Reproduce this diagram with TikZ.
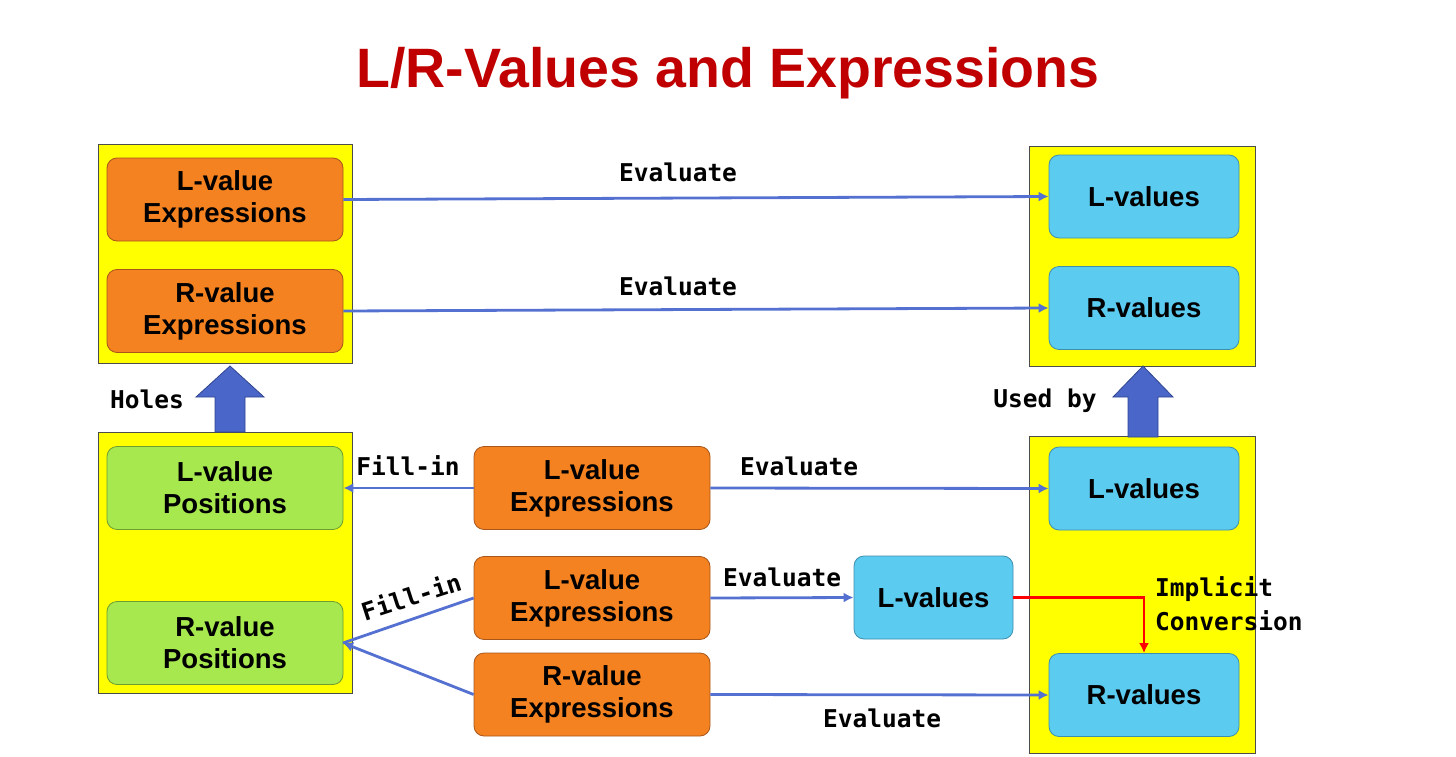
\documentclass[tikz,border=0pt]{standalone}
\usepackage{fontspec}
\setmainfont{Liberation Sans}
\newfontfamily\monof{DejaVu Sans Mono}
\usetikzlibrary{arrows.meta}
\definecolor{ttl}{HTML}{C00000}
\definecolor{panelY}{HTML}{FFFF00}
\definecolor{orng}{HTML}{F58220}
\definecolor{orngD}{HTML}{A8561A}
\definecolor{cyn}{HTML}{5BCBF0}
\definecolor{cynD}{HTML}{3E8FAE}
\definecolor{grn}{HTML}{A6E84E}
\definecolor{grnD}{HTML}{6E9E30}
\definecolor{arr}{HTML}{5470D0}
\definecolor{blk}{HTML}{4A66C8}
\definecolor{blkD}{HTML}{2F4590}
\tikzset{
  panel/.style={draw=black!70, fill=panelY, line width=0.8pt, inner sep=0pt},
  rbox/.style={rounded corners=10pt, line width=0.8pt, inner sep=0pt, minimum width=236pt, minimum height=83pt, align=center, font=\fontsize{27.5}{32}\selectfont\bfseries},
  obox/.style={rbox, fill=orng, draw=orngD},
  cbox/.style={rbox, fill=cyn, draw=cynD, minimum width=190pt},
  gbox/.style={rbox, fill=grn, draw=grnD},
  conn/.style={draw=arr, line width=2.8pt, -{Latex[length=10pt,width=10pt]}},
  lbl/.style={font=\monof\bfseries\fontsize{24.5}{34}\selectfont, inner sep=0pt},
  blockarr/.style={fill=blk, draw=blkD, line width=0.8pt},
}
\begin{document}
\begin{tikzpicture}[x=1pt,y=-1pt]
\useasboundingbox (0,0) rectangle (1456,757);
\node[font=\fontsize{55.5}{60}\selectfont\bfseries, text=ttl] (title) at (728,73) {L/R-Values and Expressions};
% panels
\node[panel, minimum width=254pt, minimum height=219pt] (tlp) at (225,253.5) {};
\node[panel, minimum width=226pt, minimum height=220pt] (trp) at (1142,256) {};
\node[panel, minimum width=254pt, minimum height=261pt] (blp) at (225,562.5) {};
\node[panel, minimum width=226pt, minimum height=317pt] (brp) at (1142,594.5) {};
% top-left
\node[obox] (le1) at (225,199.5) {L-value\\Expressions};
\node[obox] (re1) at (225,311) {R-value\\Expressions};
% top-right
\node[cbox] (lv1) at (1144,196.5) {L-values};
\node[cbox] (rv1) at (1144,308) {R-values};
% bottom-left
\node[gbox] (lp) at (225,488) {L-value\\Positions};
\node[gbox] (rp) at (225,643) {R-value\\Positions};
% middle
\node[obox] (le2) at (592,488) {L-value\\Expressions};
\node[obox] (le3) at (592,598) {L-value\\Expressions};
\node[obox] (re3) at (592,694.5) {R-value\\Expressions};
\node[cbox, minimum width=159pt] (lv3) at (933.5,597.5) {L-values};
% bottom-right
\node[cbox] (lv2) at (1144,488.5) {L-values};
\node[cbox] (rv2) at (1144,695) {R-values};
% connectors
\draw[conn] (le1.east) -- (lv1.west);
\node[lbl] (ev1) at (678,172) {Evaluate};
\draw[conn] (re1.east) -- (rv1.west);
\node[lbl] (ev2) at (678,286) {Evaluate};
\draw[conn] (le2.west) -- (lp.east);
\node[lbl] (fi1) at (408,466) {Fill-in};
\draw[conn] (le2.east) -- (lv2.west);
\node[lbl] (ev3) at (799,466) {Evaluate};
\draw[conn] (le3.east) -- (lv3.west);
\node[lbl] (ev4) at (782,577) {Evaluate};
\draw[conn] (re3.east) -- (rv2.west);
\node[lbl] (ev5) at (882,718) {Evaluate};
\coordinate (rpin) at (343,643);
\draw[draw=arr, line width=2.8pt] (le3.west) -- (rpin);
\draw[conn] (re3.west) -- (rpin);
\node[lbl, rotate=18] (fi2) at (411,596) {Fill-in};
\draw[draw=red, line width=2.8pt, -{Latex[length=10pt,width=10pt]}] (lv3.east) -| (rv2.north);
\node[lbl, anchor=north west, align=left] (ic) at (1155,576) {Implicit\\Conversion};
% block arrows
\draw[blockarr] (215,432) -- (215,397) -- (196,397) -- (230,366) -- (264,397) -- (245,397) -- (245,432) -- cycle;
\node[lbl] (holes) at (147,399) {Holes};
\draw[blockarr] (1128,437) -- (1128,397) -- (1113,397) -- (1143,366) -- (1173,397) -- (1158,397) -- (1158,437) -- cycle;
\node[lbl] (usedby) at (1045,401) {Used by};
\end{tikzpicture}
\end{document}
